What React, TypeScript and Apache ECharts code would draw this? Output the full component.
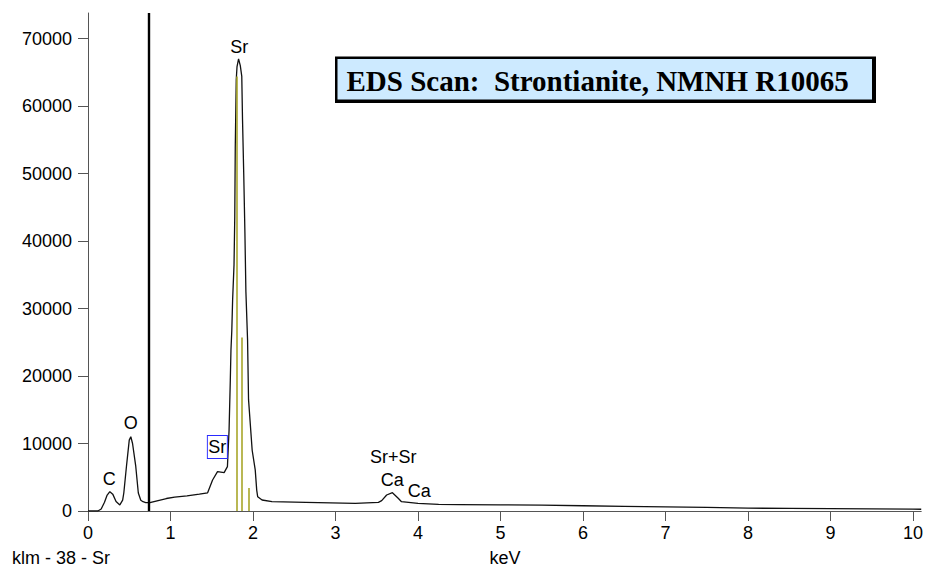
import React, { useEffect, useRef } from "react";
import * as echarts from "echarts";

// Spectrum (keV vs counts)
const energy = [
  0, 0.12, 0.16, 0.2, 0.23, 0.265, 0.3, 0.34, 0.386, 0.42, 0.434, 0.466, 0.5, 0.519, 0.54, 0.579, 0.61, 0.64,
  0.667, 0.7, 0.75, 0.85, 0.95, 1.05, 1.2, 1.35, 1.45, 1.51, 1.57, 1.65, 1.69, 1.71, 1.725, 1.733, 1.743,
  1.753, 1.77, 1.779, 1.785, 1.797, 1.806, 1.825, 1.846, 1.864, 1.873, 1.888, 1.902, 1.914, 1.934, 1.946,
  1.99, 2.027, 2.045, 2.057, 2.11, 2.23, 2.64, 3.24, 3.52, 3.56, 3.62, 3.69, 3.76, 3.8, 4.0, 4.25, 4.5, 5.0,
  5.5, 6.0, 6.5, 7.0, 7.5, 8.0, 8.5, 9.0, 9.5, 10.0, 10.1,
];
const counts = [
  0, 0, 300, 1300, 2300, 2860, 2500, 1400, 900, 1600, 2670, 6600, 10500, 11000, 10000, 6600, 2670, 1600,
  1380, 1250, 1230, 1550, 1850, 2050, 2250, 2500, 2700, 4600, 5830, 5680, 6570, 12000, 19400, 23900, 26700,
  31300, 36500, 43600, 53800, 63900, 65800, 67000, 66000, 64400, 58000, 49800, 41200, 32500, 25400, 16500,
  9000, 6100, 3100, 2100, 1630, 1380, 1290, 1140, 1290, 1530, 2370, 2710, 1880, 1380, 1140, 990, 950, 900,
  870, 780, 700, 620, 540, 420, 380, 340, 310, 280, 260,
];

// Sr line markers (keV, height)
const srLineKeV = [1.808, 1.866, 1.946];
const srLineHeight = [64400, 25700, 3400];

// Cursor line
const cursorKeV = 0.74;

// Peak annotations
const annoText = ["Sr", "O", "C", "Sr", "Sr+Sr", "Ca", "Ca"];
const annoKeV = [1.834, 0.519, 0.257, 1.568, 3.701, 3.689, 4.015];
const annoCount = [68760, 13000, 4750, 9490, 7960, 4600, 2970];
const annoBoxed = [false, false, false, true, false, false, false];

const xTicks = [0, 1, 2, 3, 4, 5, 6, 7, 8, 9, 10];
const yTicks = [0, 10000, 20000, 30000, 40000, 50000, 60000, 70000];

const titleText = "EDS Scan:  Strontianite, NMNH R10065";
const footLeft = "klm - 38 - Sr";
const xName = "keV";

export default function App() {
  const ref = useRef<HTMLDivElement>(null);
  useEffect(() => {
    if (!ref.current) return;
    const chart = echarts.init(ref.current, null, { renderer: "svg" });
    const font = "Arial, 'Liberation Sans', sans-serif";
    const axisColor = "#555";
    chart.setOption({
      animation: false,
      backgroundColor: "#fff",
      grid: { left: 88, right: 1, top: 13, bottom: 57, containLabel: false },
      xAxis: {
        type: "value",
        min: 0,
        max: 10.1,
        splitLine: { show: false },
        axisLine: { show: true, onZero: false, lineStyle: { color: axisColor, width: 1 } },
        axisTick: { show: true, length: 10, customValues: xTicks, lineStyle: { color: axisColor } },
        axisLabel: {
          customValues: xTicks,
          margin: 13,
          fontFamily: font,
          fontSize: 18,
          color: "#000",
          formatter: (v: number) => String(v),
        },
      },
      yAxis: {
        type: "value",
        min: 0,
        max: 73800,
        splitLine: { show: false },
        axisLine: { show: true, lineStyle: { color: axisColor, width: 1 } },
        axisTick: { show: true, length: 10, customValues: yTicks, lineStyle: { color: axisColor } },
        axisLabel: {
          customValues: yTicks,
          margin: 16,
          fontFamily: font,
          fontSize: 18,
          color: "#000",
          formatter: (v: number) => String(v),
        },
      },
      series: [
        {
          type: "line",
          data: energy.map((e, i) => [e, counts[i]]),
          showSymbol: false,
          symbol: "none",
          smooth: false,
          lineStyle: { color: "#111", width: 1.3 },
          silent: true,
          z: 3,
          markLine: {
            silent: true,
            symbol: ["none", "none"],
            label: { show: false },
            animation: false,
            data: [
              { xAxis: cursorKeV, lineStyle: { color: "#000", width: 2.4, type: "solid" } },
              ...srLineKeV.map((k, i) => [
                { coord: [k, 0], lineStyle: { color: "#a8a62a", width: 1.6, type: "solid" } },
                { coord: [k, srLineHeight[i]] },
              ]),
            ],
          },
          markPoint: {
            silent: true,
            animation: false,
            data: annoText.map((t, i) => ({
              name: t,
              coord: [annoKeV[i], annoCount[i]],
              symbol: "rect",
              symbolSize: annoBoxed[i] ? [20, 23] : [1, 1],
              itemStyle: {
                color: "rgba(0,0,0,0)",
                borderColor: annoBoxed[i] ? "#2a2aff" : "rgba(0,0,0,0)",
                borderWidth: annoBoxed[i] ? 1 : 0,
              },
              label: {
                show: true,
                position: "inside",
                formatter: t,
                color: "#000",
                fontFamily: font,
                fontSize: 18,
              },
            })),
          },
        },
      ],
      graphic: [
        {
          type: "rect",
          shape: { x: 335, y: 56.5, width: 541, height: 46.5 },
          style: { fill: "#000" },
          silent: true,
        },
        {
          type: "rect",
          shape: { x: 337.5, y: 59, width: 534.5, height: 40.5 },
          style: { fill: "#cdeaff" },
          silent: true,
        },
        {
          type: "text",
          x: 346.5,
          y: 81,
          style: {
            text: titleText,
            fill: "#000",
            font: "bold 29px 'Liberation Serif', 'Times New Roman', serif",
            textAlign: "left",
            textVerticalAlign: "middle",
          },
          silent: true,
        },
        {
          type: "text",
          x: 12,
          y: 558,
          style: {
            text: footLeft,
            fill: "#000",
            font: "18px Arial, 'Liberation Sans', sans-serif",
            textAlign: "left",
            textVerticalAlign: "middle",
          },
          silent: true,
        },
        {
          type: "text",
          x: 505,
          y: 558,
          style: {
            text: xName,
            fill: "#000",
            font: "18px Arial, 'Liberation Sans', sans-serif",
            textAlign: "center",
            textVerticalAlign: "middle",
          },
          silent: true,
        },
      ],
    });
    return () => chart.dispose();
  }, []);
  return (
    <div
      ref={ref}
      style={{ position: "fixed", left: 0, top: 0, width: 926, height: 568, background: "#fff" }}
    />
  );
}
